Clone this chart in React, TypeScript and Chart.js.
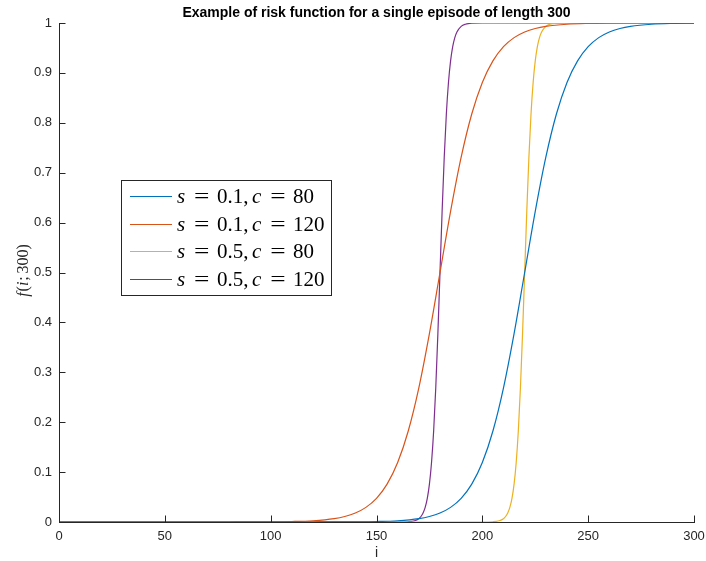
import React, { useEffect, useRef } from "react";
import { Chart, registerables } from "chart.js";

Chart.register(...registerables);

const TITLE = "Example of risk function for a single episode of length 300";
const X_LABEL = "i";
const Y_LABEL = "f(i; 300)";

const xTicks = [0, 50, 100, 150, 200, 250, 300];
const yTicks = [0, 0.1, 0.2, 0.3, 0.4, 0.5, 0.6, 0.7, 0.8, 0.9, 1];

const seriesLabels = ["s = 0.1, c = 80", "s = 0.1, c = 120", "s = 0.5, c = 80", "s = 0.5, c = 120"];
const seriesColors = ["#0072BD", "#D95319", "#EDB120", "#7E2F8E"];

// s = 0.1, c = 80
const blueI = [0, 50, 100, 120, 140, 150, 160, 170, 175, 180, 185, 190, 195, 200, 205, 210, 215, 220, 225, 230, 235, 240, 245, 250, 255, 260, 265, 270, 280, 290, 300];
const blueF = [0, 0, 0.000006, 0.00005, 0.000335, 0.000911, 0.00247, 0.00669, 0.011, 0.018, 0.0293, 0.0474, 0.0759, 0.1192, 0.1824, 0.2689, 0.3775, 0.5, 0.6225, 0.7311, 0.8176, 0.8808, 0.9241, 0.9526, 0.9707, 0.982, 0.989, 0.9933, 0.9975, 0.9991, 0.9997];

// s = 0.1, c = 120
const orangeI = [0, 50, 80, 100, 110, 120, 130, 135, 140, 145, 150, 155, 160, 165, 170, 175, 180, 185, 190, 195, 200, 205, 210, 215, 220, 225, 230, 240, 250, 260, 280, 300];
const orangeF = [0, 0, 0.00005, 0.000335, 0.000911, 0.00247, 0.00669, 0.011, 0.018, 0.0293, 0.0474, 0.0759, 0.1192, 0.1824, 0.2689, 0.3775, 0.5, 0.6225, 0.7311, 0.8176, 0.8808, 0.9241, 0.9526, 0.9707, 0.982, 0.989, 0.9933, 0.9975, 0.9991, 0.9997, 1, 1];

// s = 0.5, c = 80
const yellowI = [0, 100, 200, 205, 208, 210, 211, 212, 213, 214, 215, 216, 217, 218, 219, 220, 221, 222, 223, 224, 225, 226, 227, 228, 230, 232, 235, 240, 300];
const yellowF = [0, 0, 0.00005, 0.00055, 0.00247, 0.00669, 0.011, 0.018, 0.0293, 0.0474, 0.0759, 0.1192, 0.1824, 0.2689, 0.3775, 0.5, 0.6225, 0.7311, 0.8176, 0.8808, 0.9241, 0.9526, 0.9707, 0.982, 0.9933, 0.9975, 0.9995, 1, 1];

// s = 0.5, c = 120
const purpleI = [0, 100, 160, 165, 168, 170, 171, 172, 173, 174, 175, 176, 177, 178, 179, 180, 181, 182, 183, 184, 185, 186, 187, 188, 190, 192, 195, 200, 300];
const purpleF = [0, 0, 0.00005, 0.00055, 0.00247, 0.00669, 0.011, 0.018, 0.0293, 0.0474, 0.0759, 0.1192, 0.1824, 0.2689, 0.3775, 0.5, 0.6225, 0.7311, 0.8176, 0.8808, 0.9241, 0.9526, 0.9707, 0.982, 0.9933, 0.9975, 0.9995, 1, 1];

const seriesI = [blueI, orangeI, yellowI, purpleI];
const seriesF = [blueF, orangeF, yellowF, purpleF];

const AXIS = "#262626";
const SANS = "'Liberation Sans', Arial, Helvetica, sans-serif";
const SERIF = "'Liberation Serif', 'Times New Roman', serif";

// TeX-like math layout: letters italic, relations with wide spacing
function layoutMath(ctx: CanvasRenderingContext2D, text: string, size: number, draw: boolean, x: number, y: number) {
  let cx = x;
  const relPad = size * 0.36;
  const chars = text.replace(/ /g, "").split("");
  let i = 0;
  while (i < chars.length) {
    const ch = chars[i];
    if (/[A-Za-z]/.test(ch)) {
      ctx.font = `italic ${size}px ${SERIF}`;
      if (draw) ctx.fillText(ch, cx, y);
      cx += ctx.measureText(ch).width + size * 0.06;
      i++;
    } else if (ch === "=") {
      ctx.font = `${size}px ${SERIF}`;
      cx += relPad;
      const w = ctx.measureText("=").width;
      if (draw) {
        ctx.save();
        ctx.translate(cx, y);
        ctx.scale(1.3, 1);
        ctx.fillText("=", 0, 0);
        ctx.restore();
      }
      cx += w * 1.3 + relPad;
      i++;
    } else if (ch === "," || ch === ";") {
      ctx.font = `${size}px ${SERIF}`;
      if (draw) ctx.fillText(ch, cx, y);
      cx += ctx.measureText(ch).width + size * 0.17;
      i++;
    } else {
      let run = "";
      while (i < chars.length && /[0-9.()]/.test(chars[i])) { run += chars[i]; i++; }
      if (!run) { run = ch; i++; }
      ctx.font = `${size}px ${SERIF}`;
      if (draw) ctx.fillText(run, cx, y);
      cx += ctx.measureText(run).width;
    }
  }
  return cx - x;
}

const decorPlugin = {
  id: "decor",
  afterDraw(chart: any) {
    const { ctx, chartArea, scales } = chart;
    const { left, right, top, bottom } = chartArea;
    ctx.save();
    // inward ticks
    ctx.strokeStyle = AXIS;
    ctx.lineWidth = 1;
    ctx.beginPath();
    for (const v of yTicks) {
      const py = Math.round(scales.y.getPixelForValue(v)) + 0.5;
      ctx.moveTo(left, py);
      ctx.lineTo(left + 6.5, py);
    }
    for (const v of xTicks) {
      const px = Math.round(scales.x.getPixelForValue(v)) + 0.5;
      ctx.moveTo(px, bottom);
      ctx.lineTo(px, bottom - 6.5);
    }
    ctx.stroke();

    // title
    ctx.fillStyle = "#000";
    ctx.font = `bold 14px ${SANS}`;
    ctx.textAlign = "center";
    ctx.textBaseline = "alphabetic";
    ctx.fillText(TITLE, (left + right) / 2, 17);

    // x label
    ctx.fillStyle = AXIS;
    ctx.font = `14px ${SANS}`;
    ctx.fillText(X_LABEL, (left + right) / 2, 557);

    // y label (rotated, math style)
    ctx.save();
    ctx.translate(28, (top + bottom) / 2 - 2);
    ctx.rotate(-Math.PI / 2);
    ctx.textAlign = "left";
    const yw = layoutMath(ctx, Y_LABEL, 16, false, 0, 0);
    layoutMath(ctx, Y_LABEL, 16, true, -yw / 2, 0);
    ctx.restore();

    // legend
    const bx = 121, by = 180, bw = 210, bh = 115;
    ctx.fillStyle = "#fff";
    ctx.fillRect(bx, by, bw, bh);
    ctx.strokeStyle = AXIS;
    ctx.lineWidth = 1;
    ctx.strokeRect(bx + 0.5, by + 0.5, bw, bh);
    ctx.textAlign = "left";
    ctx.textBaseline = "alphabetic";
    seriesLabels.forEach((lab, k) => {
      const ry = 196 + k * 27.5;
      ctx.strokeStyle = seriesColors[k];
      ctx.lineWidth = 1.2;
      ctx.beginPath();
      ctx.moveTo(130, Math.round(ry) + 0.5);
      ctx.lineTo(172, Math.round(ry) + 0.5);
      ctx.stroke();
      ctx.fillStyle = "#000";
      layoutMath(ctx, lab, 21, true, 177, ry + 7);
    });
    ctx.restore();
  },
};

export default function App() {
  const ref = useRef<HTMLCanvasElement>(null);
  useEffect(() => {
    const chart = new Chart(ref.current!, {
      type: "line",
      data: {
        datasets: seriesLabels.map((label, k) => ({
          label,
          data: seriesI[k].map((x, j) => ({ x, y: seriesF[k][j] })),
          borderColor: seriesColors[k],
          backgroundColor: seriesColors[k],
          borderWidth: 1.2,
          pointRadius: 0,
          fill: false,
          cubicInterpolationMode: "monotone" as const,
        })),
      },
      options: {
        animation: false,
        responsive: false,
        maintainAspectRatio: false,
        layout: { padding: { top: 23, right: 12, left: 0, bottom: 0 } },
        plugins: {
          legend: { display: false },
          title: { display: false },
          tooltip: { enabled: false },
        },
        scales: {
          x: {
            type: "linear",
            min: 0,
            max: 300,
            afterFit: (s: any) => { s.height = 39; s.paddingLeft = 0; s.paddingRight = 0; },
            afterBuildTicks: (s: any) => { s.ticks = xTicks.map((v) => ({ value: v })); },
            grid: { display: false, drawTicks: false },
            border: { display: true, color: AXIS, width: 1 },
            ticks: {
              padding: 7,
              color: AXIS,
              font: { family: SANS, size: 13 },
              maxRotation: 0,
              autoSkip: false,
              callback: (v: any) => String(v),
            },
          },
          y: {
            type: "linear",
            min: 0,
            max: 1,
            afterFit: (s: any) => { s.width = 59; s.paddingTop = 0; s.paddingBottom = 0; },
            afterBuildTicks: (s: any) => { s.ticks = yTicks.map((v) => ({ value: v })); },
            grid: { display: false, drawTicks: false },
            border: { display: true, color: AXIS, width: 1 },
            ticks: {
              padding: 7,
              color: AXIS,
              font: { family: SANS, size: 13 },
              autoSkip: false,
              callback: (v: any) => String(Number(Number(v).toFixed(1))),
            },
          },
        },
      },
      plugins: [decorPlugin],
    });
    return () => chart.destroy();
  }, []);
  return (
    <div style={{ position: "fixed", left: 0, top: 0, width: 706, height: 561, background: "#fff" }}>
      <canvas ref={ref} width={706} height={561} style={{ width: 706, height: 561, display: "block" }} />
    </div>
  );
}
